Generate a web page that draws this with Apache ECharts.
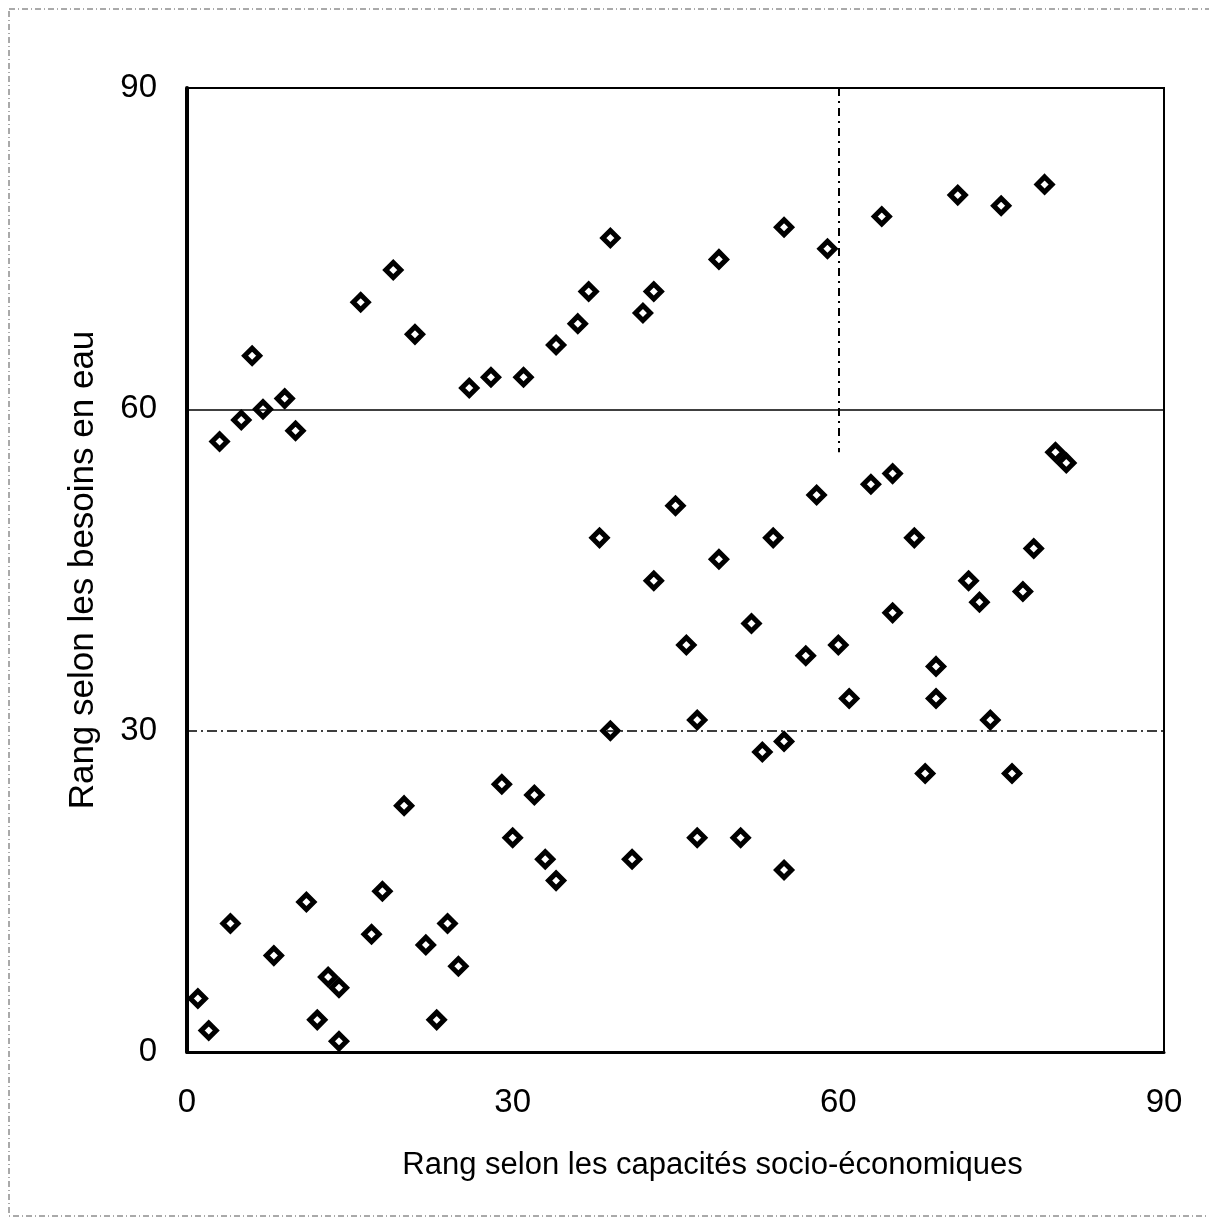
<!DOCTYPE html>
<html>
<head>
<meta charset="utf-8">
<script src="https://cdn.jsdelivr.net/npm/echarts@6/dist/echarts.min.js"></script>
<style>
  html, body { margin: 0; padding: 0; background: #fff; }
  #nuage { width: 1209px; height: 1229px; }
</style>
</head>
<body>
<div id="nuage"></div>
<script>
// rang selon les capacités socio-économiques (axe x)
var capacites = [
  3, 5, 6, 7, 9, 10, 16, 19, 21, 26, 28, 31, 34, 36, 37, 39, 42, 43, 49, 55, 59, 64, 71, 75, 79,
  80, 81, 38, 45, 43, 49, 54, 58, 63, 65, 67, 78, 72, 73, 77, 52, 46, 57, 60, 65, 69, 61, 69, 74, 47, 39, 55, 53, 68, 76,
  1, 2, 4, 8, 11, 13, 14, 12, 14, 17, 18, 20, 22, 24, 25, 23, 29, 32, 30, 33, 34, 41, 47, 51, 55
];
// rang selon les besoins en eau (axe y)
var besoins = [
  57, 59, 65, 60, 61, 58, 70, 73, 67, 62, 63, 63, 66, 68, 71, 76, 69, 71, 74, 77, 75, 78, 80, 79, 81,
  56, 55, 48, 51, 44, 46, 48, 52, 53, 54, 48, 47, 44, 42, 43, 40, 38, 37, 38, 41, 36, 33, 33, 31, 31, 30, 29, 28, 26, 26,
  5, 2, 12, 9, 14, 7, 6, 3, 1, 11, 15, 23, 10, 12, 8, 3, 25, 24, 20, 18, 16, 18, 20, 20, 17
];
var graduations = [0, 30, 60, 90];
var seuilsBesoins = [60, 30];   // lignes horizontales
var seuilCapacite = [60, 90, 56]; // x, de y1 à y2

var points = capacites.map(function (c, i) { return [c, besoins[i]]; });

var police = '"Liberation Sans", Arial, sans-serif';

var option = {
  animation: false,
  backgroundColor: '#fff',
  grid: {
    left: 187,
    right: 45,
    top: 88,
    bottom: 177,
    show: true,
    borderColor: '#000',
    borderWidth: 2
  },
  xAxis: {
    type: 'value',
    min: graduations[0],
    max: graduations[graduations.length - 1],
    interval: 30,
    name: 'Rang selon les capacités socio-économiques',
    nameLocation: 'middle',
    nameGap: 98,
    nameTextStyle: { color: '#000', fontSize: 31, fontFamily: police, padding: [0, 0, 0, 74] },
    axisLine: { show: true, lineStyle: { color: '#000', width: 3 } },
    axisTick: { show: false },
    splitLine: { show: false },
    axisLabel: { color: '#000', fontSize: 33, fontFamily: police, margin: 34 }
  },
  yAxis: {
    type: 'value',
    min: graduations[0],
    max: graduations[graduations.length - 1],
    interval: 30,
    name: 'Rang selon les besoins en eau',
    nameLocation: 'middle',
    nameGap: 86,
    nameTextStyle: { color: '#000', fontSize: 35, fontFamily: police },
    axisLine: { show: true, lineStyle: { color: '#000', width: 4 } },
    axisTick: { show: false },
    splitLine: { show: false },
    axisLabel: { color: '#000', fontSize: 33, fontFamily: police, margin: 30 }
  },
  graphic: [{
    // cadre pointillé de la figure scannée
    type: 'rect',
    shape: { x: 9, y: 9, width: 1215, height: 1207 },
    style: { fill: 'none', stroke: '#555', lineWidth: 1, lineDash: [6, 3, 1, 3] },
    silent: true
  }],
  series: [{
    type: 'scatter',
    data: points,
    symbol: 'diamond',
    symbolSize: 15,
    itemStyle: { color: '#fff', borderColor: '#000', borderWidth: 5, opacity: 1 },
    markLine: {
      silent: true,
      symbol: 'none',
      label: { show: false },
      data: [
        [{ coord: [0, seuilsBesoins[0]], lineStyle: { type: 'solid', color: '#000', width: 1.5 } }, { coord: [90, seuilsBesoins[0]] }],
        [{ coord: [0, seuilsBesoins[1]], lineStyle: { type: [10, 4, 2, 4], color: '#000', width: 1.5 } }, { coord: [90, seuilsBesoins[1]] }],
        [{ coord: [seuilCapacite[0], seuilCapacite[1]], lineStyle: { type: [8, 5, 2, 5], color: '#000', width: 2 } }, { coord: [seuilCapacite[0], seuilCapacite[2]] }]
      ]
    }
  }]
};

var myChart = echarts.init(document.getElementById('nuage'));
myChart.setOption(option);
</script>
</body>
</html>
